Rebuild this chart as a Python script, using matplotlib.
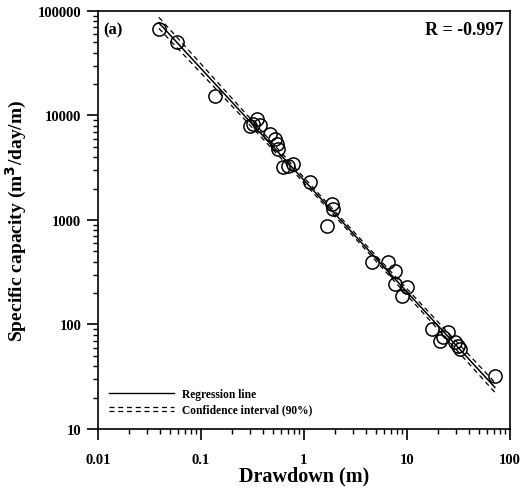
import numpy as np
import matplotlib
matplotlib.use("Agg")
import matplotlib.pyplot as plt
from matplotlib.lines import Line2D
from matplotlib.legend_handler import HandlerBase
from matplotlib.ticker import LogLocator, FixedLocator, FixedFormatter, NullFormatter

# ---- data ----
drawdown = [0.039, 0.058, 0.137, 0.32, 0.35, 0.30, 0.37, 0.47, 0.52, 0.547, 0.56,
            0.625, 0.78, 0.70, 1.14, 1.87, 1.9, 1.67, 4.57, 6.55, 7.65, 7.65, 10.0,
            8.9, 17.5, 20.9, 25.0, 29.3, 31.3, 32.6, 22.5, 71.5]
spec_cap = [67300, 50500, 15400, 8300, 9270, 7940, 8100, 6650, 5960, 5330, 4780,
            3210, 3440, 3300, 2310, 1420, 1270, 877, 396, 396, 325, 244, 229,
            188, 90.6, 69.5, 84.7, 68, 62.3, 58.3, 76, 32.1]
r_value = -0.997
t_90 = 1.697  # two-sided 90% t quantile, df = 30

x_ticks = [0.01, 0.1, 1, 10, 100]
x_ticklabels = ["0.01", "0.1", "1", "10", "100"]
y_ticks = [10, 100, 1000, 10000, 100000]
y_ticklabels = ["10", "100", "1000", "10000", "100000"]

plt.rcParams['font.family'] = ['Liberation Serif', 'DejaVu Serif']
plt.rcParams['font.weight'] = 'bold'

fig = plt.figure(figsize=(5.30, 4.89), dpi=100)
ax = fig.add_axes([0.185, 0.1207, 0.777, 0.8548])

lx = np.log10(drawdown)
ly = np.log10(spec_cap)
slope, intercept = np.polyfit(lx, ly, 1)
n = len(lx)
resid = ly - (slope * lx + intercept)
s = np.sqrt(np.sum(resid ** 2) / (n - 2))
xm = lx.mean()
sxx = np.sum((lx - xm) ** 2)

xf = np.linspace(lx.min(), lx.max(), 200)
yf = slope * xf + intercept
half = t_90 * s * np.sqrt(1.0 / n + (xf - xm) ** 2 / sxx)

ax.plot(10 ** xf, 10 ** yf, color='black', lw=1.1, zorder=3)
ax.plot(10 ** xf, 10 ** (yf + half), color='black', lw=0.9, ls=(0, (4, 3)), zorder=3)
ax.plot(10 ** xf, 10 ** (yf - half), color='black', lw=0.9, ls=(0, (4, 3)), zorder=3)

ax.plot(drawdown, spec_cap, ls='none', marker='o', ms=9.5, mfc='none',
        mec='black', mew=1.1, zorder=4)

ax.set_xscale('log')
ax.set_yscale('log')
ax.set_xlim(0.01, 100)
ax.set_ylim(10, 100000)

ax.xaxis.set_major_locator(FixedLocator(x_ticks))
ax.xaxis.set_major_formatter(FixedFormatter(x_ticklabels))
ax.yaxis.set_major_locator(FixedLocator(y_ticks))
ax.yaxis.set_major_formatter(FixedFormatter(y_ticklabels))
ax.xaxis.set_minor_locator(LogLocator(base=10, subs=np.arange(2, 10)))
ax.yaxis.set_minor_locator(LogLocator(base=10, subs=np.arange(2, 10)))
ax.xaxis.set_minor_formatter(NullFormatter())
ax.yaxis.set_minor_formatter(NullFormatter())

ax.tick_params(which='major', direction='out', length=8, width=1.2,
               labelsize=10.5, top=False, right=False)
ax.tick_params(which='minor', direction='out', length=3.5, width=1.0,
               top=False, right=False)
ax.tick_params(axis='x', which='major', pad=9)
ax.tick_params(axis='y', which='major', pad=4)
for lab in ax.get_xticklabels() + ax.get_yticklabels():
    lab.set_fontweight('bold')

for sp in ax.spines.values():
    sp.set_linewidth(1.2)

ax.set_xlabel('Drawdown (m)', fontsize=14.5, fontweight='bold', labelpad=0)
ax.set_ylabel('Specific capacity (m$^\\mathbf{3}$/day/m)', fontsize=14,
              fontweight='bold', labelpad=6)

ax.text(0.012, 0.975, '(a)', transform=ax.transAxes, ha='left', va='top',
        fontsize=12, fontweight='bold')
ax.text(0.985, 0.975, 'R = %.3f' % r_value, transform=ax.transAxes, ha='right',
        va='top', fontsize=13, fontweight='bold')


class DoubleDashHandler(HandlerBase):
    def create_artists(self, legend, orig_handle, xdescent, ydescent, width,
                       height, fontsize, trans):
        y = height / 2.0 - ydescent
        arts = []
        for dy in (1.6, -1.6):
            ln = Line2D([-xdescent, width - xdescent], [y + dy, y + dy],
                        color='black', lw=0.9, ls=(0, (4, 3)))
            ln.set_transform(trans)
            arts.append(ln)
        return arts


h_reg = Line2D([], [], color='black', lw=1.0)
h_ci = Line2D([], [], color='black', lw=0.9, ls='--')
leg = ax.legend([h_reg, h_ci], ['Regression line', 'Confidence interval (90%)'],
                handler_map={h_ci: DoubleDashHandler()},
                loc='lower left', bbox_to_anchor=(0.01, 0.015), frameon=False,
                fontsize=8.3, handlelength=5.6, handletextpad=0.7,
                labelspacing=0.35, borderaxespad=0.2)
for t in leg.get_texts():
    t.set_fontweight('bold')

fig.savefig('out.png', dpi=100)
